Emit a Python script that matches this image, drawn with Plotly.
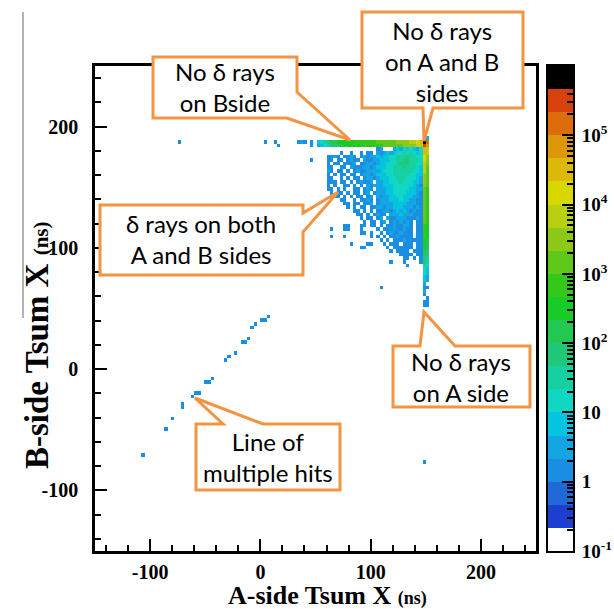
import math
import plotly.graph_objects as go

# ---------------- data ----------------
BIN_W = 3.0                      # ns per bin
HIST_LO, HIST_HI = -150.0, 249.0 # histogram range (both axes)

# colour band index of each cell: '.' empty, 0..9, a..k = 10..20
# band k  <->  log10(counts) in [-1 + k/3, -1 + (k+1)/3)
BANDS = "0123456789abcdefghijk"

# dense region: columns start at x = 51 ns, rows start at y = 192..195 ns (row 0) going down
CLUSTER_X0 = 51.0
CLUSTER_YTOP = 192.0
cluster_rows = [
    ".... .... .... .... .... .... .... ....",
    ".... .... .... .... .... .... .... ....",
    "5678 99aa aaab bbbb bbcc cccc dddd eefg",
    "4567 8899 aaaa abbb bbbb cccc ccdd ddee",
    ".... .... .... .... ..34 ...4 5465 6546",
    ".... ...3 ..3. .3.3 3.43 4545 6676 7656",
    "...3 343. 3343 .343 4454 5566 7778 7766",
    "...3 3.33 .343 3.43 3445 5566 7788 7776",
    "...3 .33. 3334 .334 4345 5666 7888 7766",
    "...3 3..3 3.43 3344 3455 5667 7787 7765",
    "...4 3.33 .3.3 4334 4445 6667 7777 7665",
    "...3 .3.3 3.33 .344 3455 5667 7777 6655",
    "...3 3..3 .3.3 3.34 4345 5566 7776 6654",
    "...3 33.3 3.3. 3433 4.44 5566 6766 6554",
    "...3 .3.. 33.3 .3.4 3444 5556 6666 6543",
    "...3 3.3. 3..3 3.34 3.44 4556 6666 5544",
    ".... 3.33 .3.3 3.34 .344 4556 6665 5543",
    ".... .33. 3.3. 33.3 4.43 4455 6655 5443",
    ".... ...3 3..3 .334 3.34 4455 5655 4433",
    ".... .... 33.3 3.33 4.34 4445 5554 4433",
    ".... .... .3.3 .33. 3344 3445 5544 4343",
    ".... .... ...3 3.3. 3.33 4434 5454 3433",
    ".... .... .... 33.3 .343 3.44 4544 4333",
    ".... .... .... .3.3 3.34 .433 4443 3343",
    ".... .... .... ..3. 33.3 4.34 3434 3.33",
    ".... .... 33.. .33. 33.3 .334 3344 3.33",
    ".... 3... 33.. .3.. ..3. 3334 3343 3.33",
    ".... .... .... .33. 3..3 .343 3433 3.33",
    ".... 3... 3... .... 3.3. 3.33 4333 3.33",
    ".... .... .... .... ...3 .3.3 3343 3333",
    ".... .... ..3. ...3 3... 3.33 3.33 3.33",
    ".... .... .... .33. .... .3.3 3333 3.33",
    ".... .... .... .... .... ..3. 3333 .333",
    ".... .... .... .... .... .... .333 3.33",
    ".... .... .... .... .... .... ..33 .3.3",
    ".... .... .... .... .... ..3. ..3. ...3",
    ".... .... .... .... .... .... ...3 ....",
    ".... .... .... .... .... .... .... ....",
    ".... .... .... .... .... .... .... ....",
    ".... .... .... .... .... .... .... ....",
    ".... .... .... .... .... .... .... ....",
    ".... .... .... .... .... .... .... ....",
    ".... .... .... .... ...3 .... .... ....",
]

# vertical band (no delta rays on A side): two columns, same rows as above
VBAND_X0 = [147.0, 150.0]
vband_cols = [
    "..kj ggff eeed dddc cccc cccc cbbb baaa 9988 7665 5434 3.33 .",
    ".4ih eedd dccc cccb bbbb bbbb baaa a999 8877 6554 4.3. .333 .",
]

# isolated hits (bin centres, ns) and their band
iso_x = [-73.5, 4.5, 13.5, 16.5, 34.5, 37.5, 40.5, 46.5, 46.5, 46.5, 148.5]
iso_y = [187.5, 187.5, 187.5, 184.5, 187.5, 187.5, 187.5, 187.5, 184.5, 172.5, -76.5]
iso_band = [3, 3, 3, 3, 3, 4, 3, 3, 3, 3, 3]

# line of multiple hits (bin centres, ns)
diag_x = [7.5, 1.5, 4.5, -4.5, -7.5, -10.5, -16.5, -13.5, -22.5, -28.5, -31.5,
          -43.5, -49.5, -46.5, -58.5, -55.5, -61.5, -70.5, -70.5, -79.5, -85.5, -106.5]
diag_y = [43.5, 40.5, 40.5, 37.5, 34.5, 25.5, 22.5, 22.5, 13.5, 10.5, 7.5,
          -7.5, -10.5, -10.5, -19.5, -19.5, -22.5, -28.5, -31.5, -40.5, -49.5, -70.5]
diag_band = [3] * len(diag_x)

# axis ticks (hyphen-minus as in the source)
axis_tickvals = [-100, 0, 100, 200]
axis_ticktext = ["-100", "0", "100", "200"]

# palette (21 contour bands, bottom to top) and colour-axis range (log10)
palette = ["#ffffff", "#1c3fd0", "#2269d8", "#1a8ee2", "#14a6e2", "#05c4e0",
           "#12d6c4", "#17d0a2", "#20c87a", "#22c850", "#18cc28", "#34c81a",
           "#60c818", "#8ec818", "#b8d010", "#d8d800", "#dcb808", "#dc9808",
           "#dc6c0c", "#d8400c", "#000000"]
LOGZ_MIN, LOGZ_MAX = -1.0, 6.0
cb_tickvals = [-1, 0, 1, 2, 3, 4, 5]
cb_ticktext = ["10<sup>-1</sup>", "1", "10", "10<sup>2</sup>", "10<sup>3</sup>",
               "10<sup>4</sup>", "10<sup>5</sup>"]

# ---------------- build the histogram ----------------
nb = int(round((HIST_HI - HIST_LO) / BIN_W))
centers = [HIST_LO + BIN_W * (k + 0.5) for k in range(nb)]
z = [[None] * nb for _ in range(nb)]


def band_to_count(k):
    return 10 ** (LOGZ_MIN + (k + 0.5) / 3.0)


def put(xc, yc, k):
    ix = int(round((xc - centers[0]) / BIN_W))
    iy = int(round((yc - centers[0]) / BIN_W))
    if 0 <= ix < nb and 0 <= iy < nb:
        z[iy][ix] = math.log10(band_to_count(k))


for r, row in enumerate(cluster_rows):
    s = row.replace(" ", "")
    for ci, ch in enumerate(s):
        if ch != ".":
            put(CLUSTER_X0 + BIN_W * (ci + 0.5), CLUSTER_YTOP - BIN_W * r + BIN_W / 2, BANDS.index(ch))

for x0, col in zip(VBAND_X0, vband_cols):
    s = col.replace(" ", "")
    for r, ch in enumerate(s):
        if ch != ".":
            put(x0 + BIN_W / 2, CLUSTER_YTOP - BIN_W * r + BIN_W / 2, BANDS.index(ch))

for xs, ys, bs in ((iso_x, iso_y, iso_band), (diag_x, diag_y, diag_band)):
    for xc, yc, k in zip(xs, ys, bs):
        put(xc, yc, k)

nband = len(palette)
colorscale = []
for k, c in enumerate(palette):
    colorscale.append([k / nband, c])
    colorscale.append([(k + 1) / nband, c])

fig = go.Figure()
fig.add_trace(go.Heatmap(x=centers, y=centers, z=z, zmin=LOGZ_MIN, zmax=LOGZ_MAX,
                         colorscale=colorscale, showscale=False, hoverongaps=False,
                         xaxis="x", yaxis="y"))

# colour bar drawn as its own little axis so it can carry log minor ticks
cb_levels = [LOGZ_MIN + (k + 0.5) / 3.0 for k in range(nband)]
fig.add_trace(go.Heatmap(x=[0], y=cb_levels, z=[[v] for v in cb_levels],
                         zmin=LOGZ_MIN, zmax=LOGZ_MAX, colorscale=colorscale,
                         showscale=False, xaxis="x2", yaxis="y2", hoverinfo="skip"))

# ---------------- layout ----------------
W, H = 614, 609
L, R, T, B = 95, 41, 66, 58
PW, PH = W - L - R, H - T - B
FRAME_RIGHT = 536
CB_LEFT = 548


def px(xp):
    return (xp - L) / PW


def py(yp):
    return (H - B - yp) / PH


serif = "Liberation Serif"
axis_common = dict(showgrid=False, zeroline=False, showline=True, linecolor="black",
                   linewidth=2.5, mirror=True, ticks="inside", ticklen=12, tickwidth=2,
                   tickcolor="black", tickmode="array", tickvals=axis_tickvals,
                   ticktext=axis_ticktext,
                   minor=dict(tickmode="linear", tick0=0, dtick=20, ticks="inside",
                              ticklen=6, tickwidth=2, tickcolor="black"),
                   tickfont=dict(family=serif, size=20, color="black", weight="bold"),
                   range=[-150, 250], automargin=False, fixedrange=True)

minor_vals = [n + math.log10(m) for n in range(-1, 6) for m in range(2, 10)]

fig.update_layout(
    template="none",
    width=W, height=H,
    margin=dict(l=L, r=R, t=T, b=B, pad=0),
    paper_bgcolor="white", plot_bgcolor="white",
    showlegend=False,
    xaxis=dict(domain=[0, px(FRAME_RIGHT)], anchor="y", ticklabelstandoff=1, **axis_common),
    yaxis=dict(domain=[0, 1], anchor="x", ticklabelstandoff=10, **axis_common),
    xaxis2=dict(domain=[px(CB_LEFT), 1], anchor="y2", range=[-0.5, 0.5], showgrid=False,
                zeroline=False, showline=True, linecolor="black", linewidth=2, mirror=True,
                showticklabels=False, ticks="", automargin=False, fixedrange=True),
    yaxis2=dict(domain=[0, 1], anchor="x2", side="right", range=[LOGZ_MIN, LOGZ_MAX],
                showgrid=False, zeroline=False, showline=True, linecolor="black",
                linewidth=2, mirror=True, ticks="inside", ticklen=11, tickwidth=1.5,
                tickcolor="black", tickmode="array", tickvals=cb_tickvals,
                ticktext=cb_ticktext,
                minor=dict(tickmode="array", tickvals=minor_vals, ticks="inside",
                           ticklen=6, tickwidth=1.5, tickcolor="black"),
                tickfont=dict(family=serif, size=19, color="black", weight="bold"),
                ticklabelstandoff=3, automargin=False, fixedrange=True),
)

# ---------------- call-out boxes ----------------
ORANGE = "#F39443"


def path_from(points):
    pts = ["%s%.5f,%.5f" % ("M" if i == 0 else "L", px(a), py(b)) for i, (a, b) in enumerate(points)]
    return " ".join(pts) + " Z"


callouts = [
    ([(153, 57), (297, 57), (297, 92), (350, 140), (287, 118), (153, 118)],
     (225, 87), "No δ rays<br>on Bside"),
    ([(362, 12), (523, 12), (523, 108), (433, 108), (424, 141), (423, 108), (362, 108)],
     (442, 61), "No δ rays<br>on A and B<br>sides"),
    ([(100, 205), (303, 205), (303, 213), (338, 192), (303, 232), (303, 275), (100, 275)],
     (201, 239), "δ rays on both<br>A and B sides"),
    ([(393, 346), (420, 346), (424, 312), (455, 346), (530, 346), (530, 407), (393, 407)],
     (461, 377), "No δ rays<br>on A side"),
    ([(196, 424), (223, 424), (195, 398), (263, 424), (340, 424), (340, 490), (196, 490)],
     (268, 457), "Line of<br>multiple hits"),
]

shapes = []
annotations = []
for pts, (cx, cy), txt in callouts:
    shapes.append(dict(type="path", xref="paper", yref="paper", path=path_from(pts),
                       fillcolor="white", line=dict(color=ORANGE, width=3), layer="above"))
    annotations.append(dict(xref="paper", yref="paper", x=px(cx), y=py(cy), text=txt,
                            showarrow=False, xanchor="center", yanchor="middle",
                            font=dict(family="Lato", size=24, color="black"), align="center"))

# thin grey rule at the top left (part of the source image)
shapes.append(dict(type="line", xref="paper", yref="paper", x0=px(23), x1=px(23),
                   y0=py(12), y1=py(318), line=dict(color="#9a9a9a", width=1.5)))

# axis titles
annotations.append(dict(xref="paper", yref="paper", x=px(327), y=py(595),
                        text="<b>A-side Tsum X</b> <span style='font-size:18px'><b>(ns)</b></span>",
                        showarrow=False, xanchor="center", yanchor="middle",
                        font=dict(family=serif, size=26, color="black")))
annotations.append(dict(xref="paper", yref="paper", x=px(37), y=py(345), textangle=-90,
                        text="<b>B-side Tsum X</b> <span style='font-size:21px'><b>(ns)</b></span>",
                        showarrow=False, xanchor="center", yanchor="middle",
                        font=dict(family=serif, size=33, color="black")))

fig.update_layout(shapes=shapes, annotations=annotations)

fig.write_html("out.html", config={"displayModeBar": False},
               post_script="document.body.style.margin='0';document.body.style.padding='0';")
